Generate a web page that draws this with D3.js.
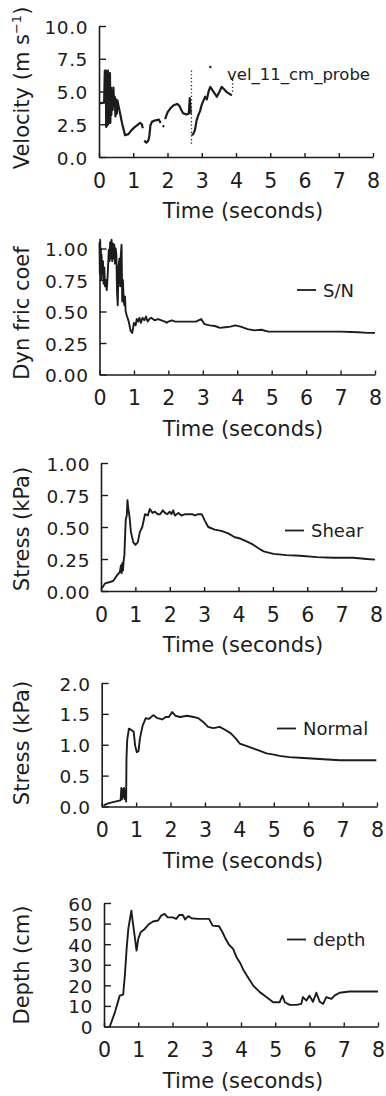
<!DOCTYPE html>
<html><head><meta charset="utf-8">
<script src="https://cdn.jsdelivr.net/npm/d3@7/dist/d3.min.js"></script>
<style>
html,body{margin:0;padding:0;background:#fff;}
svg{display:block;}
text{font-family:"DejaVu Sans",sans-serif;fill:#1c1c1c;}
</style></head>
<body>
<script>
// ---------------- data ----------------
const timeTicks = [0,1,2,3,4,5,6,7,8];

const velTicks = [0,2.5,5,7.5,10];
const velTime  = [0,0.15,0.17,0.18,0.2,0.21,0.23,0.24,0.26,0.27,0.29,0.3,0.32,0.33,0.35,0.36,0.38,0.4,0.42,0.44,0.46,0.48,0.5,0.52,0.54,0.57,0.61,0.68,0.76,0.86,0.95,1.05,1.1,1.2,1.25,1.28,1.3,
                  1.32,1.38,1.44,1.47,1.5,1.55,1.65,1.75,1.8,1.82,
                  1.86,1.9,1.91,
                  1.93,2.0,2.08,2.18,2.28,2.35,2.4,2.45,2.55,2.62,2.65,2.68,2.69,
                  2.71,2.75,2.8,2.85,2.9,2.95,3.0,3.05,3.1,3.15,3.2,3.25,3.35,3.44,3.52,3.58,3.66,3.73,3.88];
const velValue = [4.1,4.15,6.6,4.2,6.6,2.3,6.5,2.4,6.6,2.5,6.2,3.0,6.4,2.6,5.3,3.2,5.1,3.6,5.3,3.9,4.6,3.1,4.4,3.3,4.3,3.9,3.4,2.5,1.67,1.75,2.05,2.3,2.4,2.6,2.5,2.2,null,
                  1.25,1.1,1.25,1.6,2.4,2.7,2.8,2.85,2.6,null,
                  2.4,2.3,null,
                  2.9,3.4,3.7,3.95,4.05,3.9,3.6,3.35,3.25,3.3,4.5,3.3,null,
                  1.67,1.75,2.05,2.8,3.2,3.5,4.0,4.3,4.6,4.4,5.0,5.35,4.95,4.6,5.0,5.35,5.15,4.95,4.7];
// dotted vertical bursts [time, from, to]
const velDotTime = [2.7, 3.9];
const velDotFrom = [6.6, 5.9];
const velDotTo   = [1.0, 4.8];

const fricTicks = [0,0.25,0.5,0.75,1];
const fricTime  = [0,0.01,0.02,0.03,0.04,0.05,0.06,0.08,0.1,0.12,0.14,0.16,0.18,0.21,0.24,0.27,0.29,0.31,0.33,0.35,0.37,0.39,0.41,0.43,0.45,0.47,0.49,0.51,0.53,0.55,0.58,0.6,0.62,0.64,0.66,0.68,0.7,0.72,0.74,0.76,0.8,0.85,0.9,0.95,1.0,1.05,1.08,1.12,1.16,1.2,1.25,1.3,1.35,1.4,1.45,1.5,1.6,1.7,1.8,1.9,1.95,2.0,2.1,2.2,2.4,2.6,2.8,2.95,3.05,3.2,3.35,3.5,3.65,3.8,3.95,4.1,4.3,4.5,4.7,4.9,5.1,5.5,6.0,6.5,7.0,7.5,7.8,8.0];
const fricValue = [1.05,0.8,1.07,0.85,1.0,0.75,0.95,0.8,0.9,0.72,0.85,0.7,0.75,0.67,0.8,0.99,0.9,1.05,0.92,1.07,0.9,1.04,0.92,1.03,0.88,1.0,0.95,0.65,0.55,0.85,0.92,0.7,0.95,1.03,0.58,0.75,0.6,0.55,0.62,0.5,0.46,0.42,0.35,0.33,0.41,0.39,0.44,0.42,0.45,0.41,0.45,0.43,0.46,0.42,0.44,0.45,0.43,0.44,0.43,0.42,0.41,0.42,0.43,0.42,0.42,0.42,0.42,0.44,0.4,0.39,0.385,0.37,0.375,0.38,0.39,0.38,0.36,0.35,0.355,0.34,0.34,0.34,0.34,0.34,0.34,0.335,0.33,0.33];

const shearTicks = [0,0.25,0.5,0.75,1];
const shearTime  = [0.02,0.12,0.26,0.36,0.46,0.55,0.58,0.6,0.62,0.64,0.66,0.68,0.72,0.75,0.77,0.79,0.83,0.87,0.94,1.0,1.07,1.13,1.2,1.28,1.36,1.42,1.5,1.57,1.65,1.72,1.8,1.86,1.93,2.0,2.05,2.1,2.15,2.25,2.34,2.45,2.54,2.65,2.73,2.83,2.93,3.02,3.12,3.31,3.5,3.7,3.89,4.05,4.25,4.44,4.6,4.73,5.02,5.4,5.79,6.28,6.76,7.34,7.73,7.97];
const shearValue = [0.02,0.06,0.07,0.08,0.12,0.15,0.2,0.14,0.22,0.16,0.24,0.28,0.56,0.59,0.71,0.65,0.58,0.46,0.38,0.36,0.38,0.46,0.5,0.6,0.59,0.64,0.61,0.62,0.6,0.6,0.63,0.61,0.6,0.62,0.6,0.63,0.59,0.61,0.59,0.6,0.6,0.6,0.59,0.6,0.6,0.55,0.5,0.48,0.47,0.45,0.42,0.41,0.385,0.36,0.33,0.31,0.29,0.28,0.275,0.265,0.26,0.26,0.25,0.245];

const normalTicks = [0,0.5,1,1.5,2];
const normalTime  = [0.05,0.19,0.33,0.48,0.55,0.57,0.59,0.61,0.63,0.65,0.67,0.69,0.71,0.72,0.74,0.79,0.86,0.93,0.97,1.02,1.07,1.11,1.19,1.28,1.38,1.5,1.62,1.76,1.86,1.95,2.05,2.14,2.28,2.48,2.67,2.81,2.95,3.09,3.24,3.43,3.62,3.76,3.9,4.01,4.2,4.4,4.6,4.79,5.0,5.17,5.45,5.75,6.33,6.92,7.5,7.98];
const normalValue = [0.02,0.05,0.07,0.09,0.1,0.3,0.12,0.28,0.15,0.3,0.12,0.25,0.08,0.78,1.07,1.26,1.24,1.21,0.99,0.88,0.9,1.1,1.31,1.43,1.42,1.48,1.43,1.41,1.45,1.45,1.53,1.47,1.45,1.47,1.45,1.43,1.37,1.29,1.27,1.29,1.23,1.18,1.1,1.02,0.98,0.94,0.9,0.86,0.84,0.82,0.8,0.79,0.77,0.75,0.75,0.75];

const depthTicks = [0,10,20,30,40,50,60];
const depthTime  = [0.17,0.32,0.46,0.56,0.61,0.66,0.71,0.75,0.8,0.83,0.88,0.95,1.0,1.07,1.19,1.29,1.43,1.58,1.67,1.77,1.86,2.01,2.11,2.2,2.3,2.37,2.46,2.56,2.73,3.07,3.17,3.36,3.46,3.55,3.65,3.77,3.87,3.97,4.07,4.16,4.35,4.55,4.74,4.94,5.13,5.21,5.28,5.42,5.62,5.76,5.81,5.91,6.0,6.1,6.2,6.3,6.4,6.49,6.64,6.73,6.88,7.17,8.0];
const depthValue = [0,7,15,15.5,25,37.7,47.4,51.5,56.3,52,45.8,36.9,42.6,45.8,47.4,49.4,51,51.5,53.9,54.7,53,53,52.3,54.2,54.2,52,53.6,52.6,52.3,52.3,49,48.7,45.8,42.6,39.7,37.7,33.6,31,27.5,25,20,16.7,14.3,11.8,11.8,15,11.8,10.5,10.5,11,14.3,12.6,15,12,16.4,12,11,14.3,13.4,15,16.4,17,17];

// ---------------- layout ----------------
const W = 386, H = 1096;
const svg = d3.select("body").append("svg").attr("width", W).attr("height", H);

const panels = [
  {time: velTime, value: velValue, ticks: velTicks, fmt: d3.format(".1f"), dom:[0,10],
   x0:99, x1:373, yb:157, yt:26, title:"Velocity (m s", sup:"\u22121", tcy:88,
   legend:"vel_11_cm_probe", lx:227, ly:80, dot:true},
  {time: fricTime, value: fricValue, ticks: fricTicks, fmt: d3.format(".2f"), dom:[0,1],
   x0:99.5, x1:375, yb:374.5, yt:248.5, title:"Dyn fric coef", tcy:313,
   legend:"S/N", lx:297, ly:290},
  {time: shearTime, value: shearValue, ticks: shearTicks, fmt: d3.format(".2f"), dom:[0,1],
   x0:101, x1:376, yb:591, yt:463, title:"Stress (kPa)", tcy:529,
   legend:"Shear", lx:285, ly:530.5},
  {time: normalTime, value: normalValue, ticks: normalTicks, fmt: d3.format(".1f"), dom:[0,2],
   x0:101.7, x1:377, yb:806.5, yt:683, title:"Stress (kPa)", tcy:743,
   legend:"Normal", lx:277, ly:728.5},
  {time: depthTime, value: depthValue, ticks: depthTicks, fmt: d3.format("d"), dom:[0,60],
   x0:104, x1:378, yb:1026.5, yt:903, title:"Depth (cm)", tcy:965,
   legend:"depth", lx:287, ly:939.5}
];

const ink = "#1c1c1c";

panels.forEach((p, i) => {
  const x = d3.scaleLinear().domain([0, 8]).range([p.x0, p.x1]);
  const y = d3.scaleLinear().domain(p.dom).range([p.yb, p.yt]);
  const g = svg.append("g");

  // y axis
  const ya = g.append("g").attr("transform", `translate(${p.x0},0)`)
    .call(d3.axisLeft(y).tickValues(p.ticks).tickFormat(p.fmt)
      .tickSizeInner(-7).tickSizeOuter(0).tickPadding(11));
  ya.selectAll("text").attr("font-size", 18.5).attr("dy", "0.38em")
    .attr("font-family", "DejaVu Sans").attr("fill", ink).attr("letter-spacing", 0.6);

  // x axis
  const xa = g.append("g").attr("transform", `translate(0,${p.yb})`)
    .call(d3.axisBottom(x).tickValues(timeTicks).tickFormat(d3.format("d"))
      .tickSizeInner(-4).tickSizeOuter(0).tickPadding(16));
  xa.selectAll("text").attr("font-size", 20.5).attr("font-family", "DejaVu Sans").attr("fill", ink);

  [ya, xa].forEach(a => {
    a.select(".domain").attr("stroke", ink).attr("stroke-width", 1.6);
    a.selectAll(".tick line").attr("stroke", ink).attr("stroke-width", 1.4);
  });

  // x title
  g.append("text").attr("x", 243).attr("y", p.yb + 61)
    .attr("text-anchor", "middle").attr("font-size", 21).text("Time (seconds)");

  // y title
  const yt = g.append("text").attr("transform", `translate(29,${p.tcy}) rotate(-90)`)
    .attr("text-anchor", "middle").attr("font-size", 21);
  yt.append("tspan").text(p.title);
  if (p.sup) {
    yt.append("tspan").attr("font-size", 13).attr("dy", -8).text(p.sup);
    yt.append("tspan").attr("dy", 8).text(")");
  }

  // data line
  const line = d3.line()
    .defined((d) => d[1] !== null)
    .x(d => x(d[0])).y(d => y(d[1]));
  const pts = p.time.map((t, k) => [t, p.value[k]]);
  g.append("path").datum(pts).attr("d", line)
    .attr("fill", "none").attr("stroke", ink)
    .attr("stroke-width", i === 0 ? 2.2 : 1.9).attr("stroke-linejoin", "round");

  // legend
  if (p.dot) {
    g.append("circle").attr("cx", x(3.25)).attr("cy", p.ly - 13).attr("r", 1.2).attr("fill", ink);
    g.append("text").attr("x", p.lx).attr("y", p.ly).attr("font-size", 16.5).text(p.legend);
    // dotted vertical bursts
    velDotTime.forEach((t, k) => {
      g.append("line").attr("x1", x(t)).attr("x2", x(t))
        .attr("y1", y(velDotFrom[k])).attr("y2", y(velDotTo[k]))
        .attr("stroke", ink).attr("stroke-width", 1.3).attr("stroke-dasharray", "1.2,2.4");
    });
  } else {
    g.append("line").attr("x1", p.lx).attr("x2", p.lx + 19)
      .attr("y1", p.ly).attr("y2", p.ly).attr("stroke", ink).attr("stroke-width", 1.8);
    g.append("text").attr("x", p.lx + 26).attr("y", p.ly + 6.5)
      .attr("font-size", 18).text(p.legend);
  }
});
</script>
</body></html>
